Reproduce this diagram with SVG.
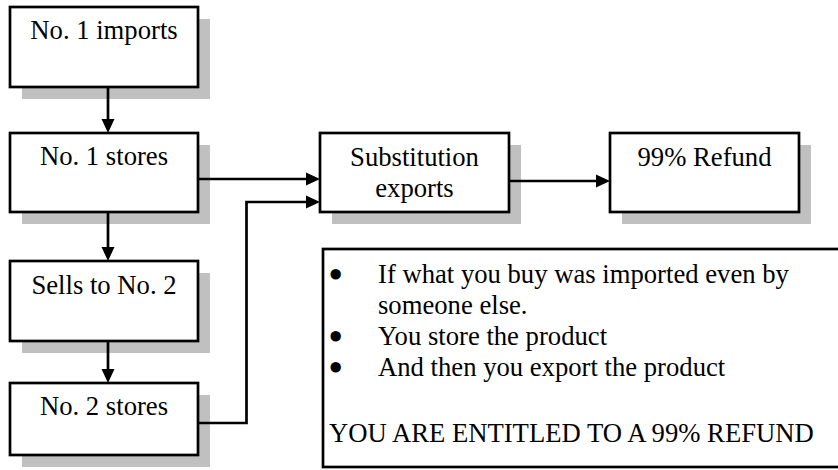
<svg xmlns="http://www.w3.org/2000/svg" width="838" height="470" viewBox="0 0 838 470">
<style>
.shadow{fill:#c0c0c0;stroke:none}
.box{fill:#fff;stroke:#000;stroke-width:2.7}
text{font-family:'Liberation Serif','Times New Roman',serif;font-size:26.67px;fill:#000}
.lbl{text-anchor:middle}
.bul{stroke:#000;stroke-width:4;stroke-linejoin:round}
.conn{fill:none;stroke:#000;stroke-width:2.7;marker-end:url(#arr)}
</style>
<defs>
<marker id="arr" markerUnits="userSpaceOnUse" markerWidth="15" markerHeight="14" refX="0" refY="6.5" orient="auto" overflow="visible">
<path d="M0,0 L14,6.5 L0,13 z" fill="#000"/>
</marker>
</defs>
<rect width="838" height="470" fill="#fff"/>
<g id="n1">
<rect class="shadow" x="22" y="19" width="188" height="80"/>
<rect class="box" x="10" y="7" width="188" height="80"/>
<text class="lbl" x="104" y="39">No. 1 imports</text>
</g>
<g id="n2">
<rect class="shadow" x="22" y="145" width="188" height="79"/>
<rect class="box" x="10" y="133" width="188" height="79"/>
<text class="lbl" x="104" y="165">No. 1 stores</text>
</g>
<g id="n3">
<rect class="shadow" x="22" y="273" width="188" height="80"/>
<rect class="box" x="10" y="261" width="188" height="80"/>
<text class="lbl" x="104" y="294">Sells to No. 2</text>
</g>
<g id="n4">
<rect class="shadow" x="22" y="395" width="188" height="72"/>
<rect class="box" x="10" y="383" width="188" height="72"/>
<text class="lbl" x="104" y="415">No. 2 stores</text>
</g>
<g id="n5">
<rect class="shadow" x="332" y="145" width="189" height="79"/>
<rect class="box" x="320" y="133" width="189" height="79"/>
<text class="lbl" x="414.5" y="166">Substitution</text>
<text class="lbl" x="414.5" y="197">exports</text>
</g>
<g id="n6">
<rect class="shadow" x="622" y="145" width="189" height="79"/>
<rect class="box" x="610" y="133" width="189" height="79"/>
<text class="lbl" x="704.5" y="166">99% Refund</text>
</g>
<g id="note">
<rect class="box" x="323" y="249" width="525" height="218"/>
<text class="bul" x="331" y="284">•</text>
<text x="378" y="283">If what you buy was imported even by</text>
<text x="378" y="314">someone else.</text>
<text class="bul" x="331" y="346">•</text>
<text x="378" y="345">You store the product</text>
<text class="bul" x="331" y="377">•</text>
<text x="378" y="376">And then you export the product</text>
<text x="329" y="442">YOU ARE ENTITLED TO A 99% REFUND</text>
</g>
<g id="connectors">
<path class="conn" d="M108,87 V119"/>
<path class="conn" d="M108,212 V247"/>
<path class="conn" d="M108,341 V369"/>
<path class="conn" d="M198,179 H306"/>
<path class="conn" d="M198,423 H246.5 V202 H306"/>
<path class="conn" d="M509,181 H596"/>
</g>
</svg>
